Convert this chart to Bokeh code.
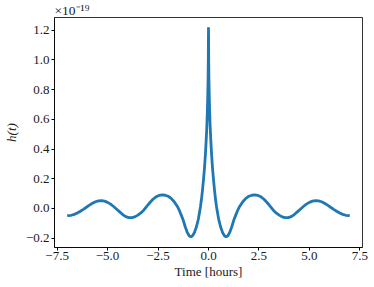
from bokeh.plotting import figure
from bokeh.models import Range1d, FixedTicker
from bokeh.embed import file_html
from bokeh.resources import INLINE

# Time in hours
t_hours = [-7.0, -6.8, -6.65, -6.5, -6.35, -6.2, -6.05, -5.9, -5.75, -5.6, -5.45, -5.3, -5.15, -5.0,
           -4.85, -4.7, -4.55, -4.4, -4.25, -4.1, -3.95, -3.8, -3.65, -3.5, -3.35, -3.2, -3.05, -2.9,
           -2.75, -2.6, -2.45, -2.3, -2.15, -2.0, -1.85, -1.7, -1.55, -1.45, -1.35, -1.25, -1.15, -1.05,
           -0.95, -0.87, -0.8, -0.7, -0.6, -0.5, -0.45, -0.4, -0.35, -0.3, -0.25, -0.2, -0.16, -0.13,
           -0.1, -0.08, -0.06, -0.04, -0.02, -0.01,
           0.0,
           0.01, 0.02, 0.04, 0.06, 0.08, 0.1, 0.13, 0.16, 0.2, 0.25, 0.3, 0.35, 0.4, 0.45, 0.5, 0.6,
           0.7, 0.8, 0.87, 0.95, 1.05, 1.15, 1.25, 1.35, 1.45, 1.55, 1.7, 1.85, 2.0, 2.15, 2.3, 2.45,
           2.6, 2.75, 2.9, 3.05, 3.2, 3.35, 3.5, 3.65, 3.8, 3.95, 4.1, 4.25, 4.4, 4.55, 4.7, 4.85,
           5.0, 5.15, 5.3, 5.45, 5.6, 5.75, 5.9, 6.05, 6.2, 6.35, 6.5, 6.65, 6.8, 7.0]

# Strain h(t) in units of 1e-19
h_strain = [-0.049, -0.046, -0.04, -0.031, -0.019, -0.006, 0.008, 0.022, 0.035, 0.045, 0.051, 0.052,
            0.049, 0.041, 0.029, 0.013, -0.005, -0.023, -0.041, -0.055, -0.062, -0.062, -0.057,
            -0.045, -0.03, -0.01, 0.016, 0.04, 0.062, 0.078, 0.088, 0.091, 0.089, 0.082, 0.068, 0.045,
            0.015, -0.012, -0.045, -0.08, -0.125, -0.162, -0.185, -0.19, -0.185, -0.163, -0.125, -0.07,
            -0.03, 0.01, 0.06, 0.12, 0.19, 0.27, 0.35, 0.42, 0.50, 0.56, 0.64, 0.74, 0.88, 1.0,
            1.22,
            1.0, 0.88, 0.74, 0.64, 0.56, 0.50, 0.42, 0.35, 0.27, 0.19, 0.12, 0.06, 0.01, -0.03, -0.07,
            -0.125, -0.163, -0.185, -0.19, -0.185, -0.162, -0.125, -0.08, -0.045, -0.012, 0.015,
            0.045, 0.068, 0.082, 0.089, 0.091, 0.088, 0.078, 0.062, 0.04, 0.016, -0.01, -0.03, -0.045,
            -0.057, -0.062, -0.062, -0.055, -0.041, -0.023, -0.005, 0.013, 0.029, 0.041, 0.049, 0.052,
            0.051, 0.045, 0.035, 0.022, 0.008, -0.006, -0.019, -0.031, -0.04, -0.046, -0.049]

x_ticks = [-7.5, -5.0, -2.5, 0.0, 2.5, 5.0, 7.5]
x_tick_labels = ["\u22127.5", "\u22125.0", "\u22122.5", "0.0", "2.5", "5.0", "7.5"]
y_ticks = [-0.2, 0.0, 0.2, 0.4, 0.6, 0.8, 1.0, 1.2]
y_tick_labels = ["\u22120.2", "0.0", "0.2", "0.4", "0.6", "0.8", "1.0", "1.2"]
offset_text = "\u00d710\u207b\u00b9\u2079"

FONT = "Liberation Serif"
TXT = "#1a1a1a"

p = figure(width=374, height=287, output_backend="svg", toolbar_location=None,
           x_range=Range1d(-7.63, 7.63), y_range=Range1d(-0.263, 1.286),
           min_border_left=54, min_border_right=12, min_border_top=17, min_border_bottom=40,
           title=offset_text)
p.background_fill_color = "white"
p.border_fill_color = "white"
p.outline_line_color = "black"
p.outline_line_width = 0.8
p.xgrid.visible = False
p.ygrid.visible = False

p.title.text_font = FONT
p.title.text_font_size = "13.5px"
p.title.text_font_style = "normal"
p.title.text_color = TXT
p.title.align = "left"
p.title.offset = 0
p.title.standoff = 0

p.line(t_hours, h_strain, line_color="#1f77b4", line_width=2.8)

for ax, ticks, labels in ((p.xaxis[0], x_ticks, x_tick_labels), (p.yaxis[0], y_ticks, y_tick_labels)):
    ax.ticker = FixedTicker(ticks=ticks)
    ax.major_label_overrides = {tk: lb for tk, lb in zip(ticks, labels)}
    ax.minor_tick_line_color = None
    ax.major_tick_in = 0
    ax.major_tick_out = 3
    ax.major_tick_line_color = "black"
    ax.axis_line_color = "black"
    ax.axis_line_width = 0.8
    ax.major_label_text_font = FONT
    ax.major_label_text_font_size = "13px"
    ax.major_label_text_color = TXT
    ax.axis_label_text_font = FONT
    ax.axis_label_text_font_size = "13px"
    ax.axis_label_text_color = TXT

p.xaxis.axis_label = "Time [hours]"
p.xaxis.axis_label_text_font_style = "normal"
p.xaxis.major_label_standoff = 1
p.xaxis.axis_label_standoff = 1
p.yaxis.axis_label = "h(t)"
p.yaxis.axis_label_text_font_style = "italic"
p.yaxis.major_label_standoff = 2
p.yaxis.axis_label_standoff = 4

open("out.html", "w").write(file_html(p, INLINE))
